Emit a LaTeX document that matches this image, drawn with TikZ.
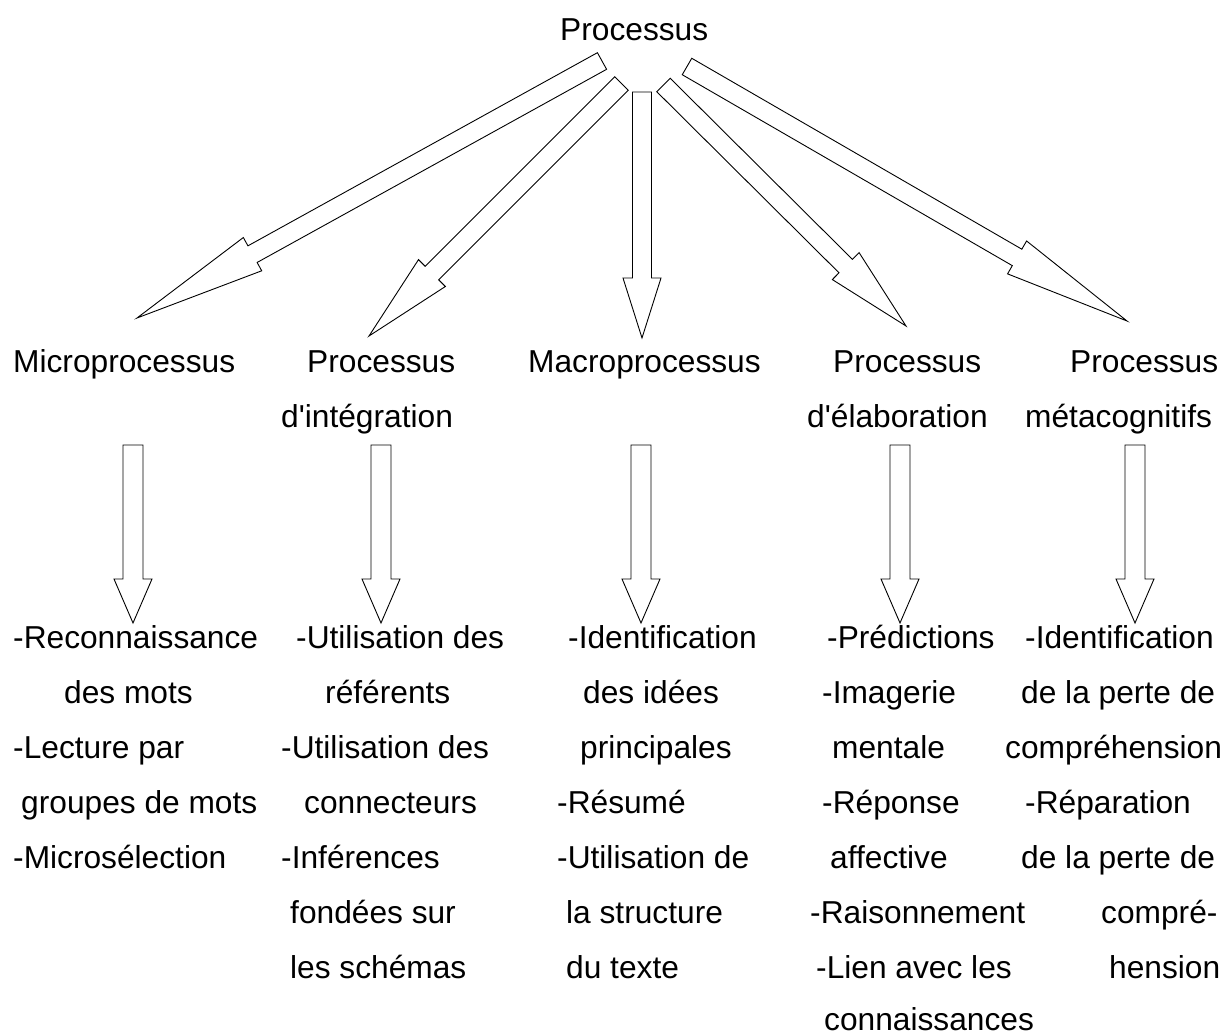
\documentclass[tikz,border=0pt]{standalone}
\usepackage{fontspec}
\setmainfont{Liberation Sans}
\usetikzlibrary{calc}
% #1 tail coordinate, #2 tip coordinate, #3 shaft half width, #4 head half width, #5 head length
\newcommand\blockarr[5]{%
  \coordinate (#1-n) at ($(#2)!#5!(#1)$);
  \draw[blockarrow] ($(#1)!#3!90:(#2)$) -- ($(#1-n)!#3!90:(#2)$) -- ($(#1-n)!#4!90:(#2)$)
    -- (#2) -- ($(#1-n)!#4!-90:(#2)$) -- ($(#1-n)!#3!-90:(#2)$) -- ($(#1)!#3!-90:(#2)$) -- cycle;}
\newcommand\txtline[4]{\node[lbl] (#1) at (#2,#3) {#4};}
\begin{document}
\begin{tikzpicture}[x=1pt,y=-1pt,
  lbl/.style={anchor=base west, inner sep=0pt, font=\fontsize{31.7}{38}\selectfont},
  blockarrow/.style={draw=black, line width=0.9pt, fill=white, line join=miter}]
\useasboundingbox (0,0) rectangle (1224,1036);
\fill[white] (0,0) rectangle (1224,1036);

% top
\txtline{top}{560}{40}{Processus}

% middle row
\txtline{m1}{13}{372}{Microprocessus}
\txtline{m2a}{307}{372}{Processus}
\txtline{m2b}{281}{427}{d\textquotesingle intégration}
\txtline{m3}{528}{372}{Macroprocessus}
\txtline{m4a}{833}{372}{Processus}
\txtline{m4b}{807}{427}{d\textquotesingle élaboration}
\txtline{m5a}{1070}{372}{Processus}
\txtline{m5b}{1025}{427}{métacognitifs}

% column 1
\txtline{c1l1}{13}{648}{-Reconnaissance}
\txtline{c1l2}{64}{703}{des mots}
\txtline{c1l3}{13}{758}{-Lecture par}
\txtline{c1l4}{21}{813}{groupes de mots}
\txtline{c1l5}{13}{868}{-Microsélection}

% column 2
\txtline{c2l1}{296}{648}{-Utilisation des}
\txtline{c2l2}{325}{703}{référents}
\txtline{c2l3}{281}{758}{-Utilisation des}
\txtline{c2l4}{304}{813}{connecteurs}
\txtline{c2l5}{281}{868}{-Inférences}
\txtline{c2l6}{290}{923}{fondées sur}
\txtline{c2l7}{290}{978}{les schémas}

% column 3
\txtline{c3l1}{568}{648}{-Identification}
\txtline{c3l2}{583}{703}{des idées}
\txtline{c3l3}{580}{758}{principales}
\txtline{c3l4}{557}{813}{-Résumé}
\txtline{c3l5}{557}{868}{-Utilisation de}
\txtline{c3l6}{566}{923}{la structure}
\txtline{c3l7}{566}{978}{du texte}

% column 4
\txtline{c4l1}{827}{648}{-Prédictions}
\txtline{c4l2}{822}{703}{-Imagerie}
\txtline{c4l3}{832}{758}{mentale}
\txtline{c4l4}{822}{813}{-Réponse}
\txtline{c4l5}{830}{868}{affective}
\txtline{c4l6}{810}{923}{-Raisonnement}
\txtline{c4l7}{816}{978}{-Lien avec les}
\txtline{c4l8}{824}{1030}{connaissances}

% column 5
\txtline{c5l1}{1025}{648}{-Identification}
\txtline{c5l2}{1021}{703}{de la perte de}
\txtline{c5l3}{1005}{758}{compréhension}
\txtline{c5l4}{1025}{813}{-Réparation}
\txtline{c5l5}{1021}{868}{de la perte de}
\txtline{c5l6}{1101}{923}{compré-}
\txtline{c5l7}{1109}{978}{hension}

% upper arrows: ends
\coordinate (t1) at (602,61);    \coordinate (h1) at (137,318);
\coordinate (t2) at (621.5,83.5);\coordinate (h2) at (369,336);
\coordinate (t3) at (642,92);    \coordinate (h3) at (642,338);
\coordinate (t4) at (663.5,85);  \coordinate (h4) at (906,326);
\coordinate (t5) at (687,66.5);  \coordinate (h5) at (1127,321);
\blockarr{t1}{h1}{9.5pt}{19pt}{132pt}
\blockarr{t2}{h2}{9.5pt}{19pt}{89pt}
\blockarr{t3}{h3}{9.5pt}{19pt}{60pt}
\blockarr{t4}{h4}{9.5pt}{19pt}{85pt}
\blockarr{t5}{h5}{9.5pt}{19pt}{127pt}

% lower arrows
\foreach \i/\x in {1/133, 2/381, 3/641, 4/900, 5/1135}{
  \coordinate (u\i) at (\x,445);
  \coordinate (v\i) at (\x,623);
  \blockarr{u\i}{v\i}{10pt}{19pt}{44pt}
}
\end{tikzpicture}
\end{document}
